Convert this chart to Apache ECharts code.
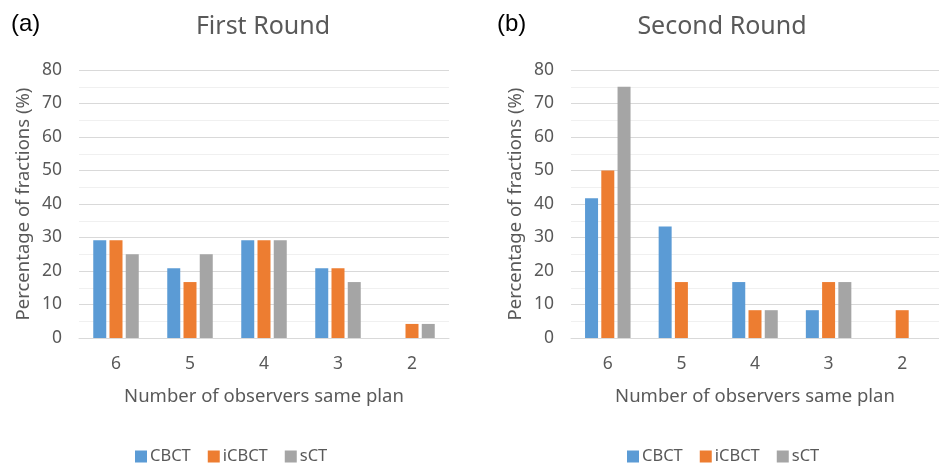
<!DOCTYPE html>
<html>
<head>
<meta charset="utf-8">
<script src="https://cdn.jsdelivr.net/npm/echarts@6/dist/echarts.min.js"></script>
<style>
  html, body { margin: 0; padding: 0; background: #fff; }
  #chart { width: 939px; height: 464px; }
</style>
</head>
<body>
<div id="chart"></div>
<script>
// Number of observers choosing the same plan
const categories = ['6', '5', '4', '3', '2'];
const seriesNames = ['CBCT', 'iCBCT', 'sCT'];

// Percentage of fractions, first round
const firstCBCT  = [29.2, 20.8, 29.2, 20.8, 0];
const firstICBCT = [29.2, 16.7, 29.2, 20.8, 4.2];
const firstSCT   = [25.0, 25.0, 29.2, 16.7, 4.2];

// Percentage of fractions, second round
const secondCBCT  = [41.7, 33.3, 16.7, 8.3, 0];
const secondICBCT = [50.0, 16.7, 8.3, 16.7, 8.3];
const secondSCT   = [75.0, 0, 8.3, 16.7, 0];

const colors = ['#5B9BD5', '#ED7D31', '#A5A5A5'];
const FONT = '"Noto Sans", sans-serif';
const TXT = '#595959';

function xAxisFor(gridIndex) {
  return {
    type: 'category', gridIndex, data: categories,
    axisTick: { show: false },
    axisLine: { lineStyle: { color: '#D9D9D9', width: 1 } },
    axisLabel: { color: TXT, fontSize: 17.5, fontFamily: FONT, margin: 17 },
    name: 'Number of observers same plan',
    nameLocation: 'middle', nameGap: 49,
    nameTextStyle: { color: TXT, fontSize: 18.5, fontFamily: FONT }
  };
}
function yAxisFor(gridIndex) {
  return {
    type: 'value', gridIndex, min: 0, max: 80, interval: 10,
    axisLine: { show: false }, axisTick: { show: false },
    axisLabel: { color: TXT, fontSize: 17.5, fontFamily: FONT, margin: 17 },
    splitLine: { lineStyle: { color: '#D9D9D9', width: 1 } },
    minorTick: { show: false, splitNumber: 2 },
    minorSplitLine: { show: true, lineStyle: { color: '#F0F0F0', width: 1 } },
    name: 'Percentage of fractions (%)',
    nameLocation: 'middle', nameGap: 46,
    nameTextStyle: { color: TXT, fontSize: 18.5, fontFamily: FONT }
  };
}
function barSeries(name, data, idx, axisIndex) {
  return {
    type: 'bar', name, data,
    xAxisIndex: axisIndex, yAxisIndex: axisIndex,
    barWidth: 13, barGap: '25%',
    itemStyle: { color: colors[idx] }
  };
}

const chart = echarts.init(document.getElementById('chart'), null, { renderer: 'canvas' });
chart.setOption({
  animation: false,
  title: [
    { text: 'First Round', left: 258, top: 9, textAlign: 'center',
      textStyle: { color: TXT, fontSize: 25, fontWeight: 'normal', fontFamily: FONT } },
    { text: 'Second Round', left: 717, top: 9, textAlign: 'center',
      textStyle: { color: TXT, fontSize: 25, fontWeight: 'normal', fontFamily: FONT } },
    { text: '(a)', left: 6, top: 7,
      textStyle: { color: '#000', fontSize: 24, fontWeight: 'normal', fontFamily: '"Liberation Sans", Arial, sans-serif' } },
    { text: '(b)', left: 492, top: 7,
      textStyle: { color: '#000', fontSize: 24, fontWeight: 'normal', fontFamily: '"Liberation Sans", Arial, sans-serif' } }
  ],
  legend: [
    { data: seriesNames, left: 130, top: 443, itemWidth: 12, itemHeight: 12, itemGap: 17,
      icon: 'rect', textStyle: { color: TXT, fontSize: 16.5, fontFamily: FONT, padding: [0, 0, 0, -2] } },
    { data: seriesNames, left: 622, top: 443, itemWidth: 12, itemHeight: 12, itemGap: 17,
      icon: 'rect', textStyle: { color: TXT, fontSize: 16.5, fontFamily: FONT, padding: [0, 0, 0, -2] } }
  ],
  grid: [
    { left: 79, right: 490, top: 70, bottom: 126 },
    { left: 571, right: -1, top: 70, bottom: 126 }
  ],
  xAxis: [xAxisFor(0), xAxisFor(1)],
  yAxis: [yAxisFor(0), yAxisFor(1)],
  series: [
    barSeries('CBCT', firstCBCT, 0, 0),
    barSeries('iCBCT', firstICBCT, 1, 0),
    barSeries('sCT', firstSCT, 2, 0),
    barSeries('CBCT', secondCBCT, 0, 1),
    barSeries('iCBCT', secondICBCT, 1, 1),
    barSeries('sCT', secondSCT, 2, 1)
  ]
});
</script>
</body>
</html>
